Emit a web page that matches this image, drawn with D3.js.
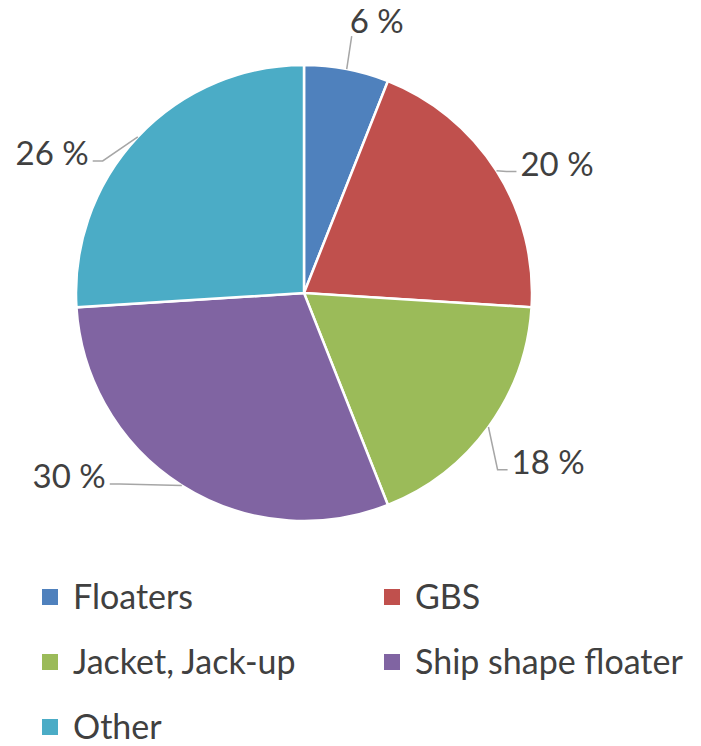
<!DOCTYPE html>
<html>
<head>
<meta charset="utf-8">
<script src="https://cdn.jsdelivr.net/npm/d3@7"></script>
<style>
  body { margin: 0; background: #fff; }
  text { font-family: Lato, "Open Sans", sans-serif; fill: #404040; }
</style>
</head>
<body>
<div id="chart"></div>
<script>
// data
const categories = ["Floaters", "GBS", "Jacket, Jack-up", "Ship shape floater", "Other"];
const shares = [6, 20, 18, 30, 26];
const colors = ["#4F81BD", "#C0504D", "#9BBB59", "#8064A2", "#4BACC6"];

// label layout (polar, degrees from top, clockwise)
const labelAngle = [15, 63, 124.7, 232, 299];
const labelRadius = [281, 284, 297, 298, 288];

const width = 701, height = 746;
const cx = 304, cy = 293, r = 228;

const svg = d3.select('#chart')
  .append('svg')
  .attr('width', width)
  .attr('height', height)

const pie = d3.pie().sort(null).value(d => d)
const arcs = pie(shares)
const arc = d3.arc().innerRadius(0).outerRadius(r)

const g = svg.append('g').attr('transform', `translate(${cx},${cy})`)

g.selectAll('path.slice')
  .data(arcs)
  .enter()
  .append('path')
  .attr('class', 'slice')
  .attr('d', arc)
  .attr('fill', (d, i) => colors[i])
  .attr('stroke', '#fff')
  .attr('stroke-width', 2.5)

function polar(deg, rad) {
  const a = deg * Math.PI / 180
  return [rad * Math.sin(a), -rad * Math.cos(a)]
}

// labels
const labels = g.selectAll('text.lbl')
  .data(arcs)
  .enter()
  .append('text')
  .attr('class', 'lbl')
  .attr('font-size', 33)
  .attr('text-anchor', 'middle')
  .attr('dy', '0.35em')
  .attr('x', (d, i) => polar(labelAngle[i], labelRadius[i])[0])
  .attr('y', (d, i) => polar(labelAngle[i], labelRadius[i])[1])
  .text(d => d.data + ' %')

// leader lines
labels.each(function(d, i) {
  const box = this.getBBox()
  const mid = (d.startAngle + d.endAngle) / 2
  const start = [r * Math.sin(mid), -r * Math.cos(mid)]
  let pts
  if (box.y + box.height < -r) {
    // label above the pie: straight line to its lower left corner
    pts = [start, [box.x + 2, box.y + box.height - 4]]
  } else {
    const right = box.x + box.width / 2 > 0
    const end = [right ? box.x - 4 : box.x + box.width + 4, box.y + box.height / 2 + 9]
    const elbow = [end[0] + (right ? -10 : 10), end[1]]
    pts = [start, elbow, end]
  }
  g.insert('polyline', 'text')
    .attr('points', pts.map(p => p.join(',')).join(' '))
    .attr('fill', 'none')
    .attr('stroke', '#A6A6A6')
    .attr('stroke-width', 1.5)
})

// legend
const legend = svg.append('g')
  .selectAll('g')
  .data(categories)
  .enter()
  .append('g')
  .attr('transform', (d, i) => `translate(${42 + (i % 2) * 342},${597 + Math.floor(i / 2) * 65})`)

legend.append('rect')
  .attr('x', 0)
  .attr('y', -8)
  .attr('width', 16)
  .attr('height', 16)
  .attr('fill', (d, i) => colors[i])

legend.append('text')
  .attr('x', 31)
  .attr('dy', '0.36em')
  .attr('font-size', 34)
  .text(d => d)
</script>
</body>
</html>
